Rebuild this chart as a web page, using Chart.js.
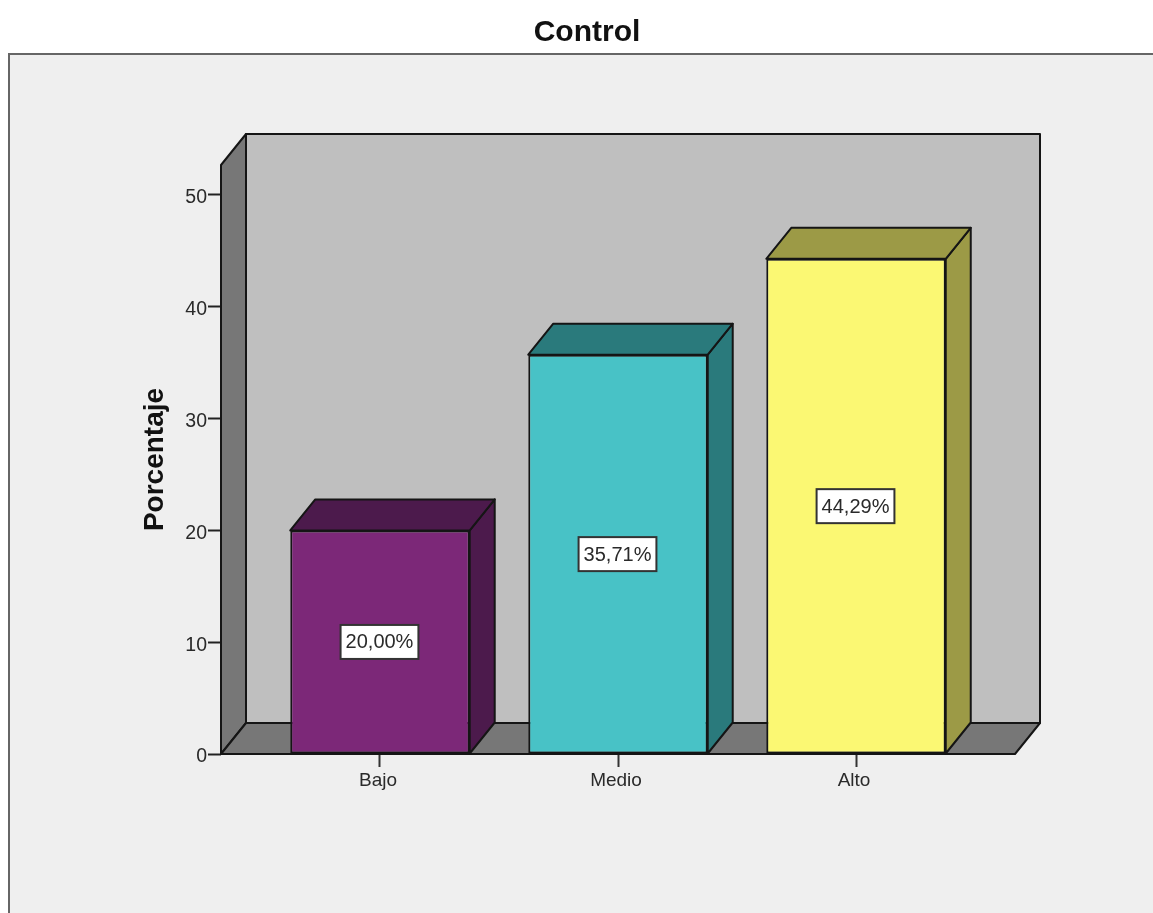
<!DOCTYPE html>
<html>
<head>
<meta charset="utf-8">
<title>Control</title>
<script src="https://cdn.jsdelivr.net/npm/chart.js@4/dist/chart.umd.min.js"></script>
<style>
	html, body { margin: 0; padding: 0; background: #fff; overflow: hidden; }
	canvas { display: block; }
</style>
</head>
<body>
<canvas id="mycanvas" width="1153" height="913"></canvas>
<script>
var categories = ['Bajo', 'Medio', 'Alto'];
var percentages = [20.00, 35.71, 44.29];
var yTicks = [0, 10, 20, 30, 40, 50];

var frontColors = ['#7c2878', '#48c2c6', '#fbf873'];
var sideColors = ['#4c1a4c', '#2a7a7c', '#9c9a46'];

var fontName = '"Liberation Sans", Arial, sans-serif';
var inkColor = '#2a2a2a';
var lineColor = '#151515';

// how far the back of the box is pushed up and to the right
var depthX = 25;
var depthY = 31;

function polygon(ctx, pts, fill) {
	ctx.beginPath();
	ctx.moveTo(pts[0][0], pts[0][1]);
	for (var i = 1; i < pts.length; i++) {
		ctx.lineTo(pts[i][0], pts[i][1]);
	}
	ctx.closePath();
	ctx.fillStyle = fill;
	ctx.fill();
	ctx.lineWidth = 2;
	ctx.lineJoin = 'round';
	ctx.strokeStyle = lineColor;
	ctx.stroke();
}

var panelPlugin = {
	id: 'panel',
	beforeDraw: function(chart) {
		var ctx = chart.ctx;
		ctx.save();
		ctx.fillStyle = '#efefef';
		ctx.fillRect(9, 54, chart.width - 9, chart.height - 54);
		ctx.strokeStyle = '#666';
		ctx.lineWidth = 2;
		ctx.beginPath();
		ctx.moveTo(9, chart.height);
		ctx.lineTo(9, 54);
		ctx.lineTo(chart.width, 54);
		ctx.stroke();
		ctx.restore();
	}
};

// walls and floor behind the bars, then the top and side of each bar
var boxPlugin = {
	id: 'box3d',
	beforeDatasetsDraw: function(chart) {
		var ctx = chart.ctx;
		var a = chart.chartArea;
		ctx.save();
		polygon(ctx, [[a.left + depthX, a.top - depthY], [a.right + depthX, a.top - depthY], [a.right + depthX, a.bottom - depthY], [a.left + depthX, a.bottom - depthY]], '#bfbfbf');
		polygon(ctx, [[a.left, a.top], [a.left + depthX, a.top - depthY], [a.left + depthX, a.bottom - depthY], [a.left, a.bottom]], '#777777');
		polygon(ctx, [[a.left, a.bottom], [a.left + depthX, a.bottom - depthY], [a.right + depthX, a.bottom - depthY], [a.right, a.bottom]], '#777777');

		chart.getDatasetMeta(0).data.forEach(function(bar, i) {
			var l = bar.x - bar.width / 2;
			var r = bar.x + bar.width / 2;
			polygon(ctx, [[r, bar.y], [r + depthX, bar.y - depthY], [r + depthX, bar.base - depthY], [r, bar.base]], sideColors[i]);
			polygon(ctx, [[l, bar.y], [l + depthX, bar.y - depthY], [r + depthX, bar.y - depthY], [r, bar.y]], sideColors[i]);
		});
		ctx.restore();
	},
	afterDatasetsDraw: function(chart) {
		var ctx = chart.ctx;
		ctx.save();
		ctx.font = '20px ' + fontName;
		ctx.textAlign = 'center';
		ctx.textBaseline = 'middle';
		chart.getDatasetMeta(0).data.forEach(function(bar, i) {
			var text = percentages[i].toFixed(2).replace('.', ',') + '%';
			var w = ctx.measureText(text).width + 10;
			var h = 34;
			var cx = bar.x - 0.5;
			var cy = (bar.y + bar.base) / 2;
			ctx.fillStyle = '#fff';
			ctx.fillRect(cx - w / 2, cy - h / 2, w, h);
			ctx.strokeStyle = '#333';
			ctx.lineWidth = 2;
			ctx.strokeRect(cx - w / 2, cy - h / 2, w, h);
			ctx.fillStyle = inkColor;
			ctx.fillText(text, cx, cy + 1);
		});
		ctx.restore();
	}
};

var points = [];
for (var i in categories) {
	points.push({ x: Number(i) + 1, y: percentages[i] });
}

var ctx = document.getElementById('mycanvas');
var barGraph = new Chart(ctx, {
	type: 'bar',
	data: {
		datasets: [{
			label: 'Porcentaje',
			data: points,
			backgroundColor: frontColors,
			borderColor: lineColor,
			borderWidth: 2,
			borderSkipped: false,
			categoryPercentage: 1,
			barPercentage: 0.754
		}]
	},
	plugins: [panelPlugin, boxPlugin],
	options: {
		responsive: false,
		animation: false,
		layout: { padding: { left: 21, right: 0, top: 0, bottom: 0 } },
		plugins: {
			legend: { display: false },
			tooltip: { enabled: false },
			title: {
				display: true,
				text: 'Control',
				color: '#111',
				font: { family: fontName, size: 30, weight: 'bold' },
				padding: { top: 15, bottom: 114 }
			}
		},
		scales: {
			x: {
				type: 'linear',
				offset: false,
				min: 0.332,
				max: 3.668,
				grid: { offset: false, drawOnChartArea: false, tickLength: 13, tickColor: '#333', tickWidth: 2 },
				border: { display: false },
				afterBuildTicks: function(scale) {
					scale.ticks = categories.map(function(c, i) { return { value: i + 1 }; });
				},
				afterFit: function(scale) { scale.height = 159; },
				ticks: {
					autoSkip: false,
					maxRotation: 0,
					padding: 2,
					labelOffset: -2,
					color: inkColor,
					font: { family: fontName, size: 19 },
					callback: function(v) { return categories[v - 1]; }
				}
			},
			y: {
				min: 0,
				max: 52.68,
				grid: { drawOnChartArea: false, tickLength: 13, tickColor: '#222', tickWidth: 2 },
				border: { display: false },
				afterBuildTicks: function(scale) {
					scale.ticks = yTicks.map(function(t) { return { value: t }; });
				},
				afterFit: function(scale) { scale.width = 200; },
				title: {
					display: true,
					text: 'Porcentaje',
					color: '#111',
					font: { family: fontName, size: 28, weight: 'bold' },
					padding: { top: 117, bottom: 0 }
				},
				ticks: {
					padding: 1,
					labelOffset: 3,
					color: inkColor,
					font: { family: fontName, size: 19.5 }
				}
			},
			// empty axis, keeps the space to the right of the floor
			rightGap: {
				type: 'linear',
				position: 'right',
				grid: { display: false },
				border: { display: false },
				ticks: { display: false },
				afterFit: function(scale) { scale.width = 138; }
			}
		}
	}
});
</script>
</body>
</html>
